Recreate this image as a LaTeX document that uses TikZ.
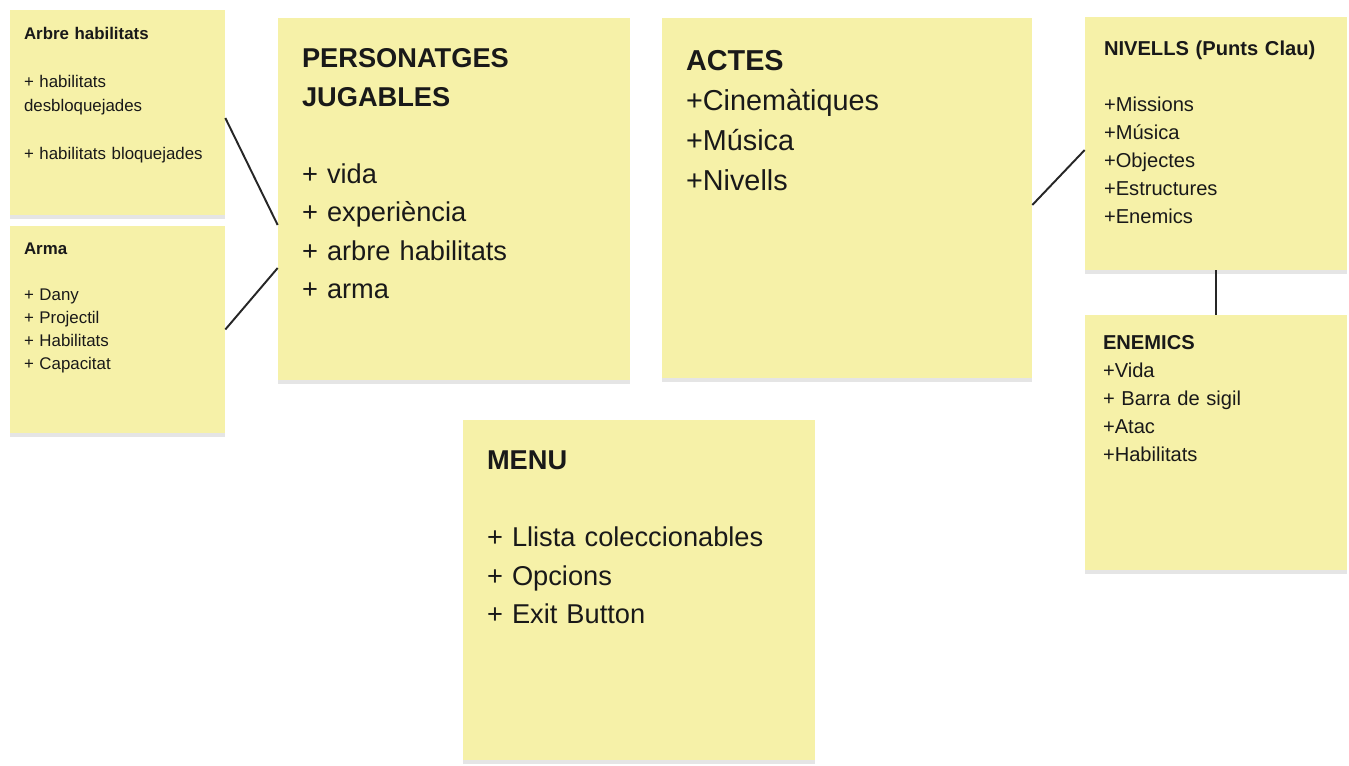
\documentclass[tikz,border=0pt]{standalone}
\usepackage{fontspec}
\setmainfont{Liberation Sans}
\usetikzlibrary{positioning, calc, shadows}
\usepackage{xcolor}
\definecolor{notefill}{RGB}{246,241,168}
\definecolor{notetext}{RGB}{25,25,25}

\begin{document}
\begin{tikzpicture}[
    x=0.02cm, y=-0.02cm,
    note/.style={rectangle, fill=notefill, inner sep=0pt, drop shadow={shadow xshift=0pt, shadow yshift=-2.5pt, opacity=0.2, fill=black!50}},
    notetxt/.style={anchor=base west, inner sep=0pt, text=notetext, align=left},
    smalltxt/.style={notetxt, text width=4cm, font=\fontsize{9.6}{13.6}\selectfont},
    midtxt/.style={notetxt, text width=4.9cm, font=\fontsize{11.45}{15.9}\selectfont},
    bigtxt/.style={notetxt, text width=6.6cm, font=\fontsize{15.5}{21.9}\selectfont},
    link/.style={line width=1.1pt, black!85}
]
    \path[fill=white] (0,0) rectangle (1349,765);
    \useasboundingbox (0,0) rectangle (1349,765);

    % sticky notes
    \node[note, minimum width=4.3cm, minimum height=4.1cm] (arbre) at (117.5,112.5) {};
    \node[note, minimum width=4.3cm, minimum height=4.14cm] (arma) at (117.5,329.5) {};
    \node[note, minimum width=7.04cm, minimum height=7.24cm] (personatges) at (454,199) {};
    \node[note, minimum width=7.4cm, minimum height=7.2cm] (actes) at (847,198) {};
    \node[note, minimum width=5.24cm, minimum height=5.06cm] (nivells) at (1216,143.5) {};
    \node[note, minimum width=5.24cm, minimum height=5.1cm] (enemics) at (1216,442.5) {};
    \node[note, minimum width=7.04cm, minimum height=6.8cm] (menu) at (639,590) {};

    % texts
    \node[smalltxt] (arbretxt) at ($(arbre.north west)+(14,30)$)
        {\textbf{Arbre habilitats}\\[13.6pt] + habilitats\\ desbloquejades\\[13.6pt] + habilitats bloquejades};
    \node[smalltxt, font=\fontsize{9.6}{13.1}\selectfont] (armatxt) at ($(arma.north west)+(14,29)$)
        {\textbf{Arma}\\[13.1pt] + Dany\\ + Projectil\\ + Habilitats\\ + Capacitat};
    \node[bigtxt] (personatgestxt) at ($(personatges.north west)+(24,50)$)
        {\textbf{PERSONATGES}\\ \textbf{JUGABLES}\\[21.9pt] + vida\\ + experiència\\ + arbre habilitats\\ + arma};
    \node[bigtxt, font=\fontsize{16.4}{22.7}\selectfont] (actestxt) at ($(actes.north west)+(24,53)$)
        {\textbf{ACTES}\\ +Cinemàtiques\\ +Música\\ +Nivells};
    \node[midtxt] (nivellstxt) at ($(nivells.north west)+(19,39)$)
        {\textbf{NIVELLS (Punts Clau)}\\[15.9pt] +Missions\\ +Música\\ +Objectes\\ +Estructures\\ +Enemics};
    \node[midtxt] (enemicstxt) at ($(enemics.north west)+(18,35)$)
        {\textbf{ENEMICS}\\ +Vida\\ + Barra de sigil\\ +Atac\\ +Habilitats};
    \node[bigtxt] (menutxt) at ($(menu.north west)+(24,50)$)
        {\textbf{MENU}\\[21.9pt] + Llista coleccionables\\ + Opcions\\ + Exit Button};

    % links
    \draw[link] ($(arbre.east)+(0,5.5)$) -- ($(personatges.west)+(0,26)$);
    \draw[link] (arma.east) -- ($(personatges.west)+(0,69)$);
    \draw[link] ($(actes.east)+(0,7)$) -- ($(nivells.west)+(0,6.5)$);
    \draw[link] (nivells.south) -- (enemics.north);
\end{tikzpicture}
\end{document}
